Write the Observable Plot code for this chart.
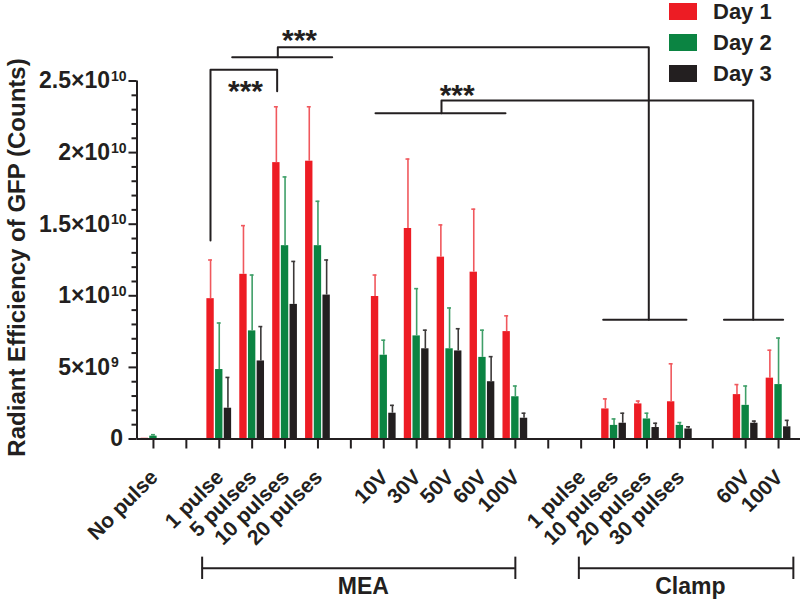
<!DOCTYPE html>
<html>
<head>
<meta charset="utf-8">
<script src="https://cdn.jsdelivr.net/npm/d3@7"></script>
<script src="https://cdn.jsdelivr.net/npm/@observablehq/plot@0.6"></script>
<style>
  body { margin: 0; background: #fff; }
  #wrap { position: relative; width: 800px; height: 602px; font-family: "Liberation Sans", Arial, Helvetica, sans-serif; }
  #legend { position: absolute; left: 669px; top: 3px; }
  .lg-row { position: absolute; left: 0; height: 18px; white-space: nowrap; }
  .lg-sw { position: absolute; left: 0; top: 0; width: 28px; height: 17px; }
  .lg-tx { position: absolute; left: 44px; top: -6px; font-size: 22px; font-weight: bold; color: #231f20; line-height: 30px; }
</style>
</head>
<body>
<div id="wrap"></div>
<script>
// ---- data ----
const categories = ["No pulse","","1 pulse","5 pulses","10 pulses","20 pulses","","10V","30V","50V","60V","100V","","1 pulse","10 pulses","20 pulses","30 pulses","","60V","100V"];
const days = ["Day 1","Day 2","Day 3"];
const dayColors = ["#ed1c24","#0b8442","#231f20"];
const errColors = ["#f0585d","#3f9f68","#3b3838"];

const day1    = [0.05e9, null, 9.8e9, 11.5e9, 19.3e9, 19.4e9, null, 9.95e9, 14.7e9, 12.7e9, 11.65e9, 7.5e9, null, null, 2.1e9, 2.45e9, 2.6e9, null, 3.1e9, 4.25e9];
const day1Err = [null,   null, 12.5e9, 14.9e9, 23.2e9, 23.2e9, null, 11.45e9, 19.55e9, 14.95e9, 16.05e9, 8.6e9, null, null, 2.8e9, 2.65e9, 5.25e9, null, 3.8e9, 6.2e9];
const day2    = [0.2e9,  null, 4.85e9, 7.55e9, 13.5e9, 13.5e9, null, 5.85e9, 7.2e9, 6.3e9, 5.7e9, 2.95e9, null, null, 0.95e9, 1.4e9, 0.95e9, null, 2.35e9, 3.8e9];
const day2Err = [0.3e9,  null, 8.1e9, 11.45e9, 18.3e9, 16.6e9, null, 6.9e9, 10.5e9, 9.15e9, 7.6e9, 3.7e9, null, null, 1.4e9, 1.8e9, 1.15e9, null, 3.7e9, 7.05e9];
const day3    = [0.02e9, null, 2.15e9, 5.45e9, 9.4e9, 10.05e9, null, 1.8e9, 6.3e9, 6.15e9, 4.0e9, 1.45e9, null, null, 1.1e9, 0.8e9, 0.7e9, null, 1.1e9, 0.85e9];
const day3Err = [null,   null, 4.3e9, 7.85e9, 12.4e9, 12.5e9, null, 2.35e9, 7.6e9, 7.7e9, 5.75e9, 1.8e9, null, null, 1.8e9, 1.1e9, 0.85e9, null, 1.25e9, 1.3e9];

const yTickValues = [0, 5e9, 1e10, 1.5e10, 2e10, 2.5e10];
const yTickMain   = ["0", "5×10", "1×10", "1.5×10", "2×10", "2.5×10"];
const yTickExp    = ["", "9", "10", "10", "10", "10"];
const yMinorTicks = [1e9,2e9,3e9,4e9,6e9,7e9,8e9,9e9,11e9,12e9,13e9,14e9,16e9,17e9,18e9,19e9,21e9,22e9,23e9,24e9];

// significance brackets (x in category slots, y in counts)
const sigLines = [
  {id: "a", pts: [[1.734, 13.86e9], [1.734, 25.78e9], [3.76, 25.78e9], [3.76, 24.29e9]]},
  {id: "b", pts: [[2.394, 26.66e9], [5.433, 26.66e9]]},
  {id: "c", pts: [[3.78, 26.66e9], [3.78, 27.36e9], [15.056, 27.36e9], [15.056, 8.32e9]]},
  {id: "d", pts: [[13.67, 8.32e9], [16.20, 8.32e9]]},
  {id: "e", pts: [[6.749, 22.75e9], [10.70, 22.75e9]]},
  {id: "f", pts: [[8.755, 22.75e9], [8.755, 23.64e9], [18.23, 23.64e9], [18.23, 8.32e9]]},
  {id: "g", pts: [[17.34, 8.32e9], [19.14, 8.32e9]]}
];
const sigStars = [
  {x: 2.798, y: 24.62e9, text: "***"},
  {x: 4.439, y: 28.18e9, text: "***"},
  {x: 9.233, y: 24.34e9, text: "***"}
];
// group brackets under the axis
const groups = [
  {name: "MEA",   from: 1.48,  to: 11.0,  label: 6.38},
  {name: "Clamp", from: 12.93, to: 19.45, label: 16.32}
];
const groupLineY = -9.02e9, groupTickTop = -8.25e9, groupTickBottom = -9.81e9, groupLabelY = -10.3e9;

// ---- build rows ----
const dayVals = [day1, day2, day3];
const dayErrs = [day1Err, day2Err, day3Err];
const dayOffset = [-0.264, 0, 0.264];
const halfW = 0.112, capHalf = 0.06;
const rows = [];
dayVals.forEach((arr, d) => arr.forEach((v, i) => {
  if (v != null) rows.push({slot: i, day: d, value: v, err: dayErrs[d][i]});
}));
const slotIdx = categories.map((c, i) => i);
const labelRows = categories.map((c, i) => ({slot: i, text: c})).filter(r => r.text);
const lineRows = sigLines.flatMap(s => s.pts.map(p => ({id: s.id, x: p[0], y: p[1]})));
const yLabelRows = yTickValues.map((v, i) => ({v, main: yTickMain[i], exp: yTickExp[i]}));

const ink = "#231f20";
const font = "Liberation Sans, Arial, Helvetica, sans-serif";

const marks = [];
// bars, error bars
[0, 1, 2].forEach(d => {
  const r = rows.filter(o => o.day === d);
  const re = r.filter(o => o.err != null);
  marks.push(Plot.rectY(r, {x1: o => o.slot + dayOffset[d] - halfW, x2: o => o.slot + dayOffset[d] + halfW, y1: 0, y2: "value", fill: dayColors[d]}));
  marks.push(Plot.ruleX(re, {x: o => o.slot + dayOffset[d], y1: "value", y2: "err", stroke: errColors[d], strokeWidth: 1.6}));
  marks.push(Plot.ruleY(re, {y: "err", x1: o => o.slot + dayOffset[d] - capHalf, x2: o => o.slot + dayOffset[d] + capHalf, stroke: errColors[d], strokeWidth: 1.6}));
});
// axes
marks.push(Plot.axisX({ticks: slotIdx, tickSize: 10, tickFormat: () => "", stroke: ink, strokeWidth: 2, label: null}));
marks.push(Plot.axisY({ticks: yTickValues, tickSize: 8, tickFormat: () => "", stroke: ink, strokeWidth: 2, label: null}));
marks.push(Plot.axisY({ticks: yMinorTicks, tickSize: 5, tickFormat: () => "", stroke: ink, strokeWidth: 2, label: null}));
marks.push(Plot.ruleY([0], {x1: -0.5, x2: 19.75, stroke: ink, strokeWidth: 2}));
marks.push(Plot.ruleX([-0.5], {y1: 0, y2: 2.5e10, stroke: ink, strokeWidth: 2}));
// y tick labels
marks.push(Plot.text(yLabelRows.filter(r => r.exp), {y: "v", text: "main", frameAnchor: "left", textAnchor: "end", lineAnchor: "middle", dx: -27, fontSize: 23, fontWeight: "bold", fill: ink, fontFamily: font}));
marks.push(Plot.text(yLabelRows.filter(r => r.exp), {y: "v", text: "exp", frameAnchor: "left", textAnchor: "start", lineAnchor: "middle", dx: -26, dy: -4.5, fontSize: 14, fontWeight: "bold", fill: ink, fontFamily: font}));
marks.push(Plot.text(yLabelRows.filter(r => !r.exp), {y: "v", text: "main", frameAnchor: "left", textAnchor: "end", lineAnchor: "middle", dx: -14, fontSize: 23, fontWeight: "bold", fill: ink, fontFamily: font}));
// y title
marks.push(Plot.text(["Radiant Efficiency of GFP (Counts)"], {frameAnchor: "left", textAnchor: "middle", lineAnchor: "middle", dx: -119.5, dy: -2.5, rotate: -90, fontSize: 24, fontWeight: "bold", fill: ink, fontFamily: font}));
// x tick labels
marks.push(Plot.text(labelRows, {x: "slot", y: 0, text: "text", rotate: -45, textAnchor: "end", lineAnchor: "top", dx: -5, dy: 29, fontSize: 21, fontWeight: "bold", fill: ink, fontFamily: font}));
// significance
marks.push(Plot.line(lineRows, {x: "x", y: "y", z: "id", stroke: ink, strokeWidth: 2, curve: "linear"}));
marks.push(Plot.text(sigStars, {x: "x", y: "y", text: "text", dy: 5, fontSize: 30, fontWeight: "bold", fill: ink, fontFamily: font}));
// group brackets
marks.push(Plot.ruleY(groups, {y: groupLineY, x1: "from", x2: "to", stroke: ink, strokeWidth: 2}));
marks.push(Plot.ruleX(groups, {x: "from", y1: groupTickTop, y2: groupTickBottom, stroke: ink, strokeWidth: 2}));
marks.push(Plot.ruleX(groups, {x: "to", y1: groupTickTop, y2: groupTickBottom, stroke: ink, strokeWidth: 2}));
marks.push(Plot.text(groups, {x: "label", y: groupLabelY, text: "name", fontSize: 23, fontWeight: "bold", fill: ink, fontFamily: font}));

const chart = Plot.plot({
  width: 800,
  height: 602,
  marginLeft: 136.5,
  marginRight: 5.5,
  marginTop: 80.5,
  marginBottom: 163.5,
  x: {type: "linear", domain: [-0.5, 19.5], axis: null},
  y: {type: "linear", domain: [0, 2.5e10], axis: null},
  style: {background: "white", fontFamily: font, overflow: "visible"},
  marks
});
const wrap = document.getElementById("wrap");
wrap.appendChild(chart);

// legend
const legend = document.createElement("div");
legend.id = "legend";
days.forEach((d, i) => {
  const row = document.createElement("div");
  row.className = "lg-row";
  row.style.top = (i * 31.2) + "px";
  const sw = document.createElement("div");
  sw.className = "lg-sw";
  sw.style.background = dayColors[i];
  const tx = document.createElement("div");
  tx.className = "lg-tx";
  tx.textContent = d;
  row.appendChild(sw);
  row.appendChild(tx);
  legend.appendChild(row);
});
wrap.appendChild(legend);
</script>
</body>
</html>
